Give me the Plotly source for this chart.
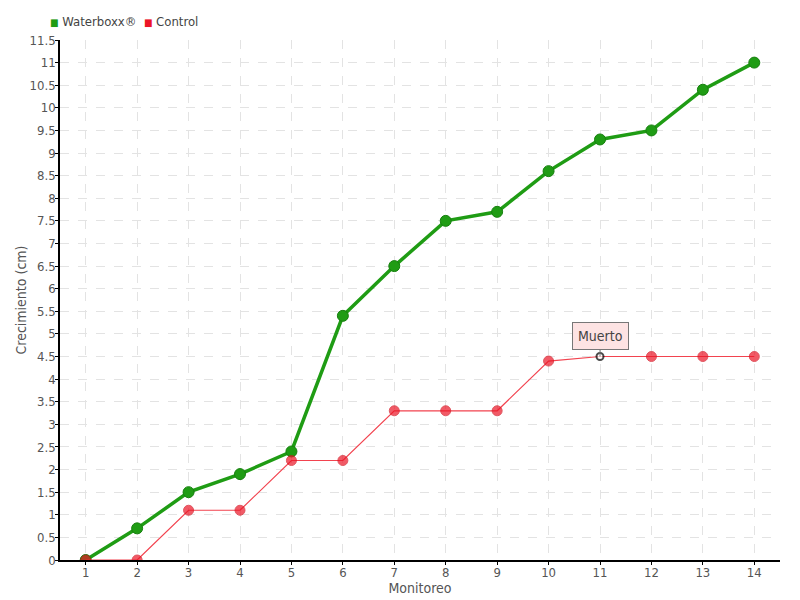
import plotly.graph_objects as go

monitoreo = list(range(1, 15))
waterboxx = [0, 0.7, 1.5, 1.9, 2.4, 5.4, 6.5, 7.5, 7.7, 8.6, 9.3, 9.5, 10.4, 11.0]
control = [0, 0, 1.1, 1.1, 2.2, 2.2, 3.3, 3.3, 3.3, 4.4, 4.5, 4.5, 4.5, 4.5]
y_ticks = [i * 0.5 for i in range(24)]
y_labels = [("%g" % v) for v in y_ticks]

GREEN = "#1f9c14"
RED = "#ec1526"
FONT = "DejaVu Sans Condensed, Liberation Sans Narrow, sans-serif"

fig = go.Figure()
fig.add_trace(go.Scatter(
    x=monitoreo, y=waterboxx, name="Waterboxx®", mode="lines+markers",
    line=dict(color=GREEN, width=3.5), showlegend=False,
    marker=dict(color=GREEN, size=11, line=dict(color="#17800f", width=1)),
))
ctrl_colors = [RED] * len(control)
ctrl_colors[10] = "white"
ctrl_line = ["#d3101e"] * len(control)
ctrl_line[10] = "black"
ctrl_sizes = [10] * len(control)
ctrl_sizes[10] = 7
fig.add_trace(go.Scatter(
    x=monitoreo, y=control, name="Control", mode="lines+markers",
    line=dict(color="#f2434f", width=1.2), showlegend=False,
    marker=dict(color=ctrl_colors, size=ctrl_sizes,
                line=dict(color=ctrl_line, width=[1] * 10 + [2] + [1] * 3)),
))

# legend (square swatches as in the original)
fig.add_annotation(
    xref="paper", yref="paper", x=-0.017, y=1.0, yanchor="bottom", xanchor="left",
    yshift=9, showarrow=False, align="left",
    text=("<span style='color:%s;font-size:10px'>■</span> Waterboxx®  "
          "<span style='color:%s;font-size:10px'>■</span> Control") % (GREEN, RED),
    font=dict(family=FONT, size=13, color="#444444"),
)

fig.add_annotation(
    x=monitoreo[10], y=control[10], text="Muerto", showarrow=True,
    arrowhead=0, arrowwidth=1, arrowcolor="#777777", ax=0, ay=-21,
    bgcolor="#fde3e3", bordercolor="#777777", borderwidth=1, borderpad=5,
    font=dict(family=FONT, size=14, color="#444444"),
)

# the page adds an 8px body margin; margins are offset to compensate
fig.update_layout(
    width=800, height=600,
    margin=dict(l=52, r=28, t=32, b=48, autoexpand=False),
    plot_bgcolor="white", paper_bgcolor="white",
    font=dict(family=FONT, size=14, color="#555555"),
    xaxis=dict(
        range=[0.5, 14.5], tickmode="array", tickvals=monitoreo,
        showline=True, linecolor="black", linewidth=1.5,
        ticks="outside", ticklen=3, tickcolor="black",
        ticklabelstandoff=-3,
        showgrid=True, gridcolor="#e3e3e3", griddash="dash", gridwidth=1,
        zeroline=False, automargin=False,
        title=dict(text="Monitoreo", standoff=0, font=dict(size=14, color="#555555")),
        tickfont=dict(size=13, color="#555555"),
    ),
    yaxis=dict(
        range=[0, 11.5], tickmode="array", tickvals=y_ticks, ticktext=y_labels,
        showline=True, linecolor="black", linewidth=1.5,
        ticks="outside", ticklen=3, tickcolor="black",
        ticklabelstandoff=-3,
        showgrid=True, gridcolor="#e3e3e3", griddash="dash", gridwidth=1,
        zeroline=False, automargin=False,
        title=dict(text="Crecimiento (cm)", standoff=0, font=dict(size=14, color="#555555")),
        tickfont=dict(size=13, color="#555555"),
    ),
)

fig.write_html("out.html")
